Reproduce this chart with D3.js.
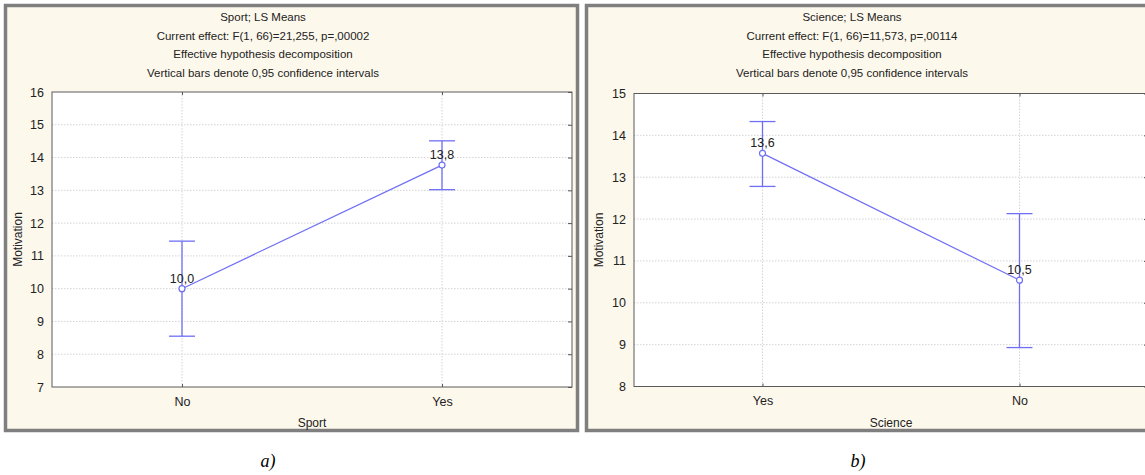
<!DOCTYPE html>
<html><head><meta charset="utf-8">
<script src="https://cdn.jsdelivr.net/npm/d3@7"></script>
<style>
html,body{margin:0;padding:0;background:#fff;}
svg{display:block;}
</style></head>
<body>
<svg id="chart" width="1145" height="475"></svg>
<script>
// ---- data ----
const sportCategories = ["No", "Yes"];
const sportMeans = [10.0, 13.77];
const sportLower = [8.55, 13.02];
const sportUpper = [11.45, 14.51];
const sportLabels = ["10,0", "13,8"];
const sportTicks = [7, 8, 9, 10, 11, 12, 13, 14, 15, 16];
const sportTitles = ["Sport; LS Means", "Current effect: F(1, 66)=21,255, p=,00002",
  "Effective hypothesis decomposition", "Vertical bars denote 0,95 confidence intervals"];

const scienceCategories = ["Yes", "No"];
const scienceMeans = [13.57, 10.54];
const scienceLower = [12.78, 8.93];
const scienceUpper = [14.33, 12.13];
const scienceLabels = ["13,6", "10,5"];
const scienceTicks = [8, 9, 10, 11, 12, 13, 14, 15];
const scienceTitles = ["Science; LS Means", "Current effect: F(1, 66)=11,573, p=,00114",
  "Effective hypothesis decomposition", "Vertical bars denote 0,95 confidence intervals"];

const svg = d3.select("#chart");
const font = "'Liberation Sans', Arial, sans-serif";
const blue = "#6f6ff5";

function panel(o) {
  const g = svg.append("g");
  // frame
  g.append("rect").attr("x", o.fx0 + 1.5).attr("y", 5.5).attr("width", o.fx1 - o.fx0 - 3).attr("height", 425)
    .attr("fill", "#fdf8ec").attr("stroke", "#7f7f7f").attr("stroke-width", 3.5);
  // titles
  o.titles.forEach((t, i) => {
    g.append("text").attr("x", o.tcx).attr("y", 21 + i * 18.5).attr("text-anchor", "middle")
      .attr("font-family", font).attr("font-size", 11.5).attr("fill", "#222").text(t);
  });
  const x = d3.scalePoint().domain(o.cats).range([o.l, o.r]).padding(0.5);
  const y = d3.scaleLinear().domain([o.ticks[0], o.ticks[o.ticks.length - 1]]).range([o.b, o.t]);
  // plot bg
  g.append("rect").attr("x", o.l).attr("y", o.t).attr("width", o.r - o.l).attr("height", o.b - o.t).attr("fill", "#fff");
  // gridlines
  g.append("g").selectAll("line").data(o.ticks.slice(1, -1)).join("line")
    .attr("x1", o.l).attr("x2", o.r).attr("y1", d => y(d)).attr("y2", d => y(d))
    .attr("stroke", "#d4d4d4").attr("stroke-dasharray", "1.5,1.5");
  g.append("g").selectAll("line").data(o.cats).join("line")
    .attr("x1", d => x(d)).attr("x2", d => x(d)).attr("y1", o.t).attr("y2", o.b)
    .attr("stroke", "#d4d4d4").attr("stroke-dasharray", "1.5,1.5");
  // axes
  const yAx = d3.axisLeft(y).tickValues(o.ticks).tickSize(0).tickPadding(8).tickFormat(d3.format("d"));
  const ya = g.append("g").attr("transform", `translate(${o.l},0)`).call(yAx);
  ya.select(".domain").remove();
  ya.selectAll("text").attr("font-family", font).attr("font-size", 12.5).attr("fill", "#222");
  const yr = g.append("g").attr("transform", `translate(${o.r},0)`).call(d3.axisLeft(y).tickValues(o.ticks).tickSize(4).tickFormat(""));
  yr.select(".domain").remove(); yr.selectAll("line").attr("stroke", "#555");
  const xAx = d3.axisBottom(x).tickSize(0).tickPadding(10);
  const xa = g.append("g").attr("transform", `translate(0,${o.b})`).call(xAx);
  xa.select(".domain").remove();
  xa.selectAll("text").attr("font-family", font).attr("font-size", 12.5).attr("fill", "#222");
  const xt = g.append("g").attr("transform", `translate(0,${o.b})`).call(d3.axisTop(x).tickSize(3).tickFormat(""));
  xt.select(".domain").remove(); xt.selectAll("line").attr("stroke", "#555");
  const xtop = g.append("g").attr("transform", `translate(0,${o.t})`).call(d3.axisBottom(x).tickSize(3).tickFormat(""));
  xtop.select(".domain").remove(); xtop.selectAll("line").attr("stroke", "#555");
  // plot border
  g.append("rect").attr("x", o.l).attr("y", o.t).attr("width", o.r - o.l).attr("height", o.b - o.t)
    .attr("fill", "none").attr("stroke", "#5a5a5a").attr("stroke-width", 1);
  // axis titles
  g.append("text").attr("transform", `translate(${o.fx0 + 14},${(o.t + o.b) / 2}) rotate(-90)`)
    .attr("text-anchor", "middle").attr("dy", "0.35em").attr("font-family", font).attr("font-size", 12).attr("fill", "#222").text("Motivation");
  g.append("text").attr("x", (o.l + o.r) / 2).attr("y", o.b + 40).attr("text-anchor", "middle")
    .attr("font-family", font).attr("font-size", 12).attr("fill", "#222").text(o.xTitle);
  // data
  const pts = o.cats.map((c, i) => ({c, m: o.means[i], lo: o.lower[i], hi: o.upper[i], lab: o.labels[i]}));
  const eb = g.append("g").attr("stroke", blue).attr("stroke-width", 1.3);
  pts.forEach(p => {
    eb.append("line").attr("x1", x(p.c)).attr("x2", x(p.c)).attr("y1", y(p.lo)).attr("y2", y(p.hi));
    eb.append("line").attr("x1", x(p.c) - 13).attr("x2", x(p.c) + 13).attr("y1", y(p.lo)).attr("y2", y(p.lo));
    eb.append("line").attr("x1", x(p.c) - 13).attr("x2", x(p.c) + 13).attr("y1", y(p.hi)).attr("y2", y(p.hi));
  });
  g.append("path").datum(pts).attr("d", d3.line().x(p => x(p.c)).y(p => y(p.m)))
    .attr("fill", "none").attr("stroke", blue).attr("stroke-width", 1.2);
  g.append("g").selectAll("circle").data(pts).join("circle")
    .attr("cx", p => x(p.c)).attr("cy", p => y(p.m)).attr("r", 3)
    .attr("fill", "#fff").attr("stroke", blue).attr("stroke-width", 1.2);
  g.append("g").selectAll("text").data(pts).join("text")
    .attr("x", p => x(p.c)).attr("y", p => y(p.m) - 6).attr("text-anchor", "middle")
    .attr("font-family", font).attr("font-size", 12.5).attr("fill", "#222").text(p => p.lab);
  // caption
  svg.append("text").attr("x", o.capx).attr("y", 467).attr("text-anchor", "middle")
    .attr("font-family", "'Liberation Serif', 'Times New Roman', serif").attr("font-style", "italic")
    .attr("font-size", 18).attr("fill", "#000").text(o.cap);
}

panel({fx0: 4, fx1: 579, tcx: 263, l: 52, r: 572, t: 92, b: 387,
  cats: sportCategories, means: sportMeans, lower: sportLower, upper: sportUpper, labels: sportLabels,
  ticks: sportTicks, titles: sportTitles, xTitle: "Sport", cap: "a)", capx: 268});
panel({fx0: 585, fx1: 1160, tcx: 852, l: 634, r: 1148, t: 93.5, b: 386.5,
  cats: scienceCategories, means: scienceMeans, lower: scienceLower, upper: scienceUpper, labels: scienceLabels,
  ticks: scienceTicks, titles: scienceTitles, xTitle: "Science", cap: "b)", capx: 858});
</script>
</body></html>
